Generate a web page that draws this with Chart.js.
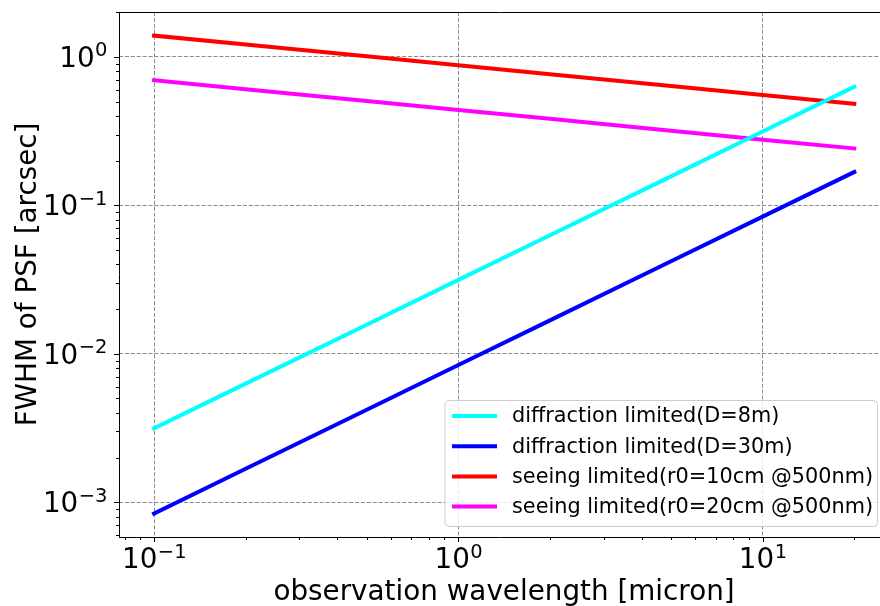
<!DOCTYPE html>
<html>
<head>
<meta charset="utf-8">
<script src="https://cdn.jsdelivr.net/npm/chart.js@4.4.0/dist/chart.umd.min.js"></script>
<style>
    html, body { margin: 0; padding: 0; background: #fff; overflow: hidden; }
    #wrap { width: 880px; height: 606px; position: relative; }
</style>
</head>
<body>
<div id="wrap"><canvas id="psfChart"></canvas></div>
<script>
// wavelength samples [micron]
const wavelengths = [0.1, 0.2, 0.5, 1, 2, 5, 10, 20];

// FWHM [arcsec]
const diffraction8m = [0.00315, 0.0063, 0.0157, 0.0315, 0.063, 0.157, 0.315, 0.63];
const diffraction30m = [0.00084, 0.00168, 0.0042, 0.0084, 0.0168, 0.042, 0.084, 0.168];
const seeing10cm = [1.394, 1.213, 1.01, 0.879, 0.766, 0.637, 0.555, 0.483];
const seeing20cm = [0.697, 0.607, 0.505, 0.440, 0.383, 0.319, 0.277, 0.242];

const seriesLabels = [
    "diffraction limited(D=8m)",
    "diffraction limited(D=30m)",
    "seeing limited(r0=10cm @500nm)",
    "seeing limited(r0=20cm @500nm)",
];
const seriesColors = ["#00ffff", "#0000ff", "#ff0000", "#ff00ff"];

// ticks
const xMajorTicks = [0.1, 1, 10];
const xTickLabels = [["10", "\u22121"], ["10", "0"], ["10", "1"]];
const xMinorTicks = [0.08, 0.09, 0.2, 0.3, 0.4, 0.5, 0.6, 0.7, 0.8, 0.9,
    2, 3, 4, 5, 6, 7, 8, 9, 20];
const yMajorTicks = [0.001, 0.01, 0.1, 1];
const yTickLabels = [["10", "\u22123"], ["10", "\u22122"], ["10", "\u22121"], ["10", "0"]];
const yMinorTicks = [0.0006, 0.0007, 0.0008, 0.0009,
    0.002, 0.003, 0.004, 0.005, 0.006, 0.007, 0.008, 0.009,
    0.02, 0.03, 0.04, 0.05, 0.06, 0.07, 0.08, 0.09,
    0.2, 0.3, 0.4, 0.5, 0.6, 0.7, 0.8, 0.9, 2];

const xTitle = "observation wavelength [micron]";
const yTitle = "FWHM of PSF [arcsec]";

const FONT = "'DejaVu Sans', sans-serif";

function toPoints(values) {
    return wavelengths.map((w, i) => ({ x: w, y: values[i] }));
}

const allSeries = [diffraction8m, diffraction30m, seeing10cm, seeing20cm];
const datasets = allSeries.map((values, i) => ({
    label: seriesLabels[i],
    data: toPoints(values),
    borderColor: seriesColors[i],
    backgroundColor: seriesColors[i],
    borderWidth: 4,
    pointRadius: 0,
    tension: 0,
    fill: false,
    borderCapStyle: "square",
}));

function buildTicks(majors, minors) {
    return majors.map((v) => ({ value: v, major: true }))
        .concat(minors.map((v) => ({ value: v, major: false })))
        .sort((a, b) => a.value - b.value);
}

function gridColor(majors) {
    return function (ctx) {
        if (!ctx.tick) return "rgba(0,0,0,0)";
        return majors.includes(ctx.tick.value) ? "#8c8c8c" : "rgba(0,0,0,0)";
    };
}

// draws tick marks, tick labels, axis titles, top spine and legend
const axisDecor = {
    id: "axisDecor",
    afterDraw(chart) {
        const { ctx, chartArea: a, scales } = chart;
        const x = scales.x, y = scales.y;
        ctx.save();
        ctx.setLineDash([]);
        ctx.strokeStyle = "#000";
        ctx.lineWidth = 1;

        function seg(x1, y1, x2, y2) {
            ctx.beginPath();
            ctx.moveTo(x1, y1);
            ctx.lineTo(x2, y2);
            ctx.stroke();
        }

        // spines
        seg(a.left, Math.round(a.top) + 0.5, a.right, Math.round(a.top) + 0.5);
        seg(Math.round(a.left) + 0.5, a.top, Math.round(a.left) + 0.5, a.bottom);
        seg(a.left, Math.round(a.bottom) + 0.5, a.right, Math.round(a.bottom) + 0.5);

        xMajorTicks.forEach((v) => {
            const px = Math.round(x.getPixelForValue(v)) + 0.5;
            seg(px, a.bottom, px, a.bottom + 5);
        });
        xMinorTicks.forEach((v) => {
            const px = Math.round(x.getPixelForValue(v)) + 0.5;
            seg(px, a.bottom, px, a.bottom + 3);
        });
        yMajorTicks.forEach((v) => {
            const py = Math.round(y.getPixelForValue(v)) + 0.5;
            seg(a.left - 5, py, a.left, py);
        });
        yMinorTicks.forEach((v) => {
            const py = Math.round(y.getPixelForValue(v)) + 0.5;
            seg(a.left - 3, py, a.left, py);
        });

        // tick labels 10^n
        const baseFont = "27.8px " + FONT;
        const expFont = "19.5px " + FONT;
        ctx.fillStyle = "#000";
        ctx.textBaseline = "alphabetic";
        ctx.textAlign = "left";

        function measure(label) {
            ctx.font = baseFont;
            const wb = ctx.measureText(label[0]).width;
            ctx.font = expFont;
            const we = ctx.measureText(label[1]).width;
            return [wb, we];
        }
        function drawLabel(label, left, baseline) {
            const [wb] = measure(label);
            ctx.font = baseFont;
            ctx.fillText(label[0], left, baseline);
            ctx.font = expFont;
            ctx.fillText(label[1], left + wb + 0.5, baseline - 10.5);
        }

        xMajorTicks.forEach((v, i) => {
            const px = x.getPixelForValue(v);
            const [wb, we] = measure(xTickLabels[i]);
            drawLabel(xTickLabels[i], px - (wb + we) / 2, a.bottom + 31);
        });
        yMajorTicks.forEach((v, i) => {
            const py = y.getPixelForValue(v);
            const [wb, we] = measure(yTickLabels[i]);
            drawLabel(yTickLabels[i], a.left - 12 - (wb + we), py + 10);
        });

        // axis titles
        ctx.font = "27.8px " + FONT;
        ctx.textAlign = "center";
        ctx.fillText(xTitle, 504, 600);
        ctx.save();
        ctx.translate(35.5, (a.top + a.bottom) / 2);
        ctx.rotate(-Math.PI / 2);
        ctx.fillText(yTitle, 0, 0);
        ctx.restore();

        // legend
        const bx = 445, by = 400.5, bw = 432.5, bh = 126, r = 4;
        ctx.beginPath();
        ctx.moveTo(bx + r, by);
        ctx.arcTo(bx + bw, by, bx + bw, by + bh, r);
        ctx.arcTo(bx + bw, by + bh, bx, by + bh, r);
        ctx.arcTo(bx, by + bh, bx, by, r);
        ctx.arcTo(bx, by, bx + bw, by, r);
        ctx.closePath();
        ctx.fillStyle = "rgba(255,255,255,0.8)";
        ctx.fill();
        ctx.strokeStyle = "#cccccc";
        ctx.lineWidth = 1;
        ctx.stroke();

        ctx.font = "20.8px " + FONT;
        ctx.textAlign = "left";
        ctx.textBaseline = "middle";
        seriesLabels.forEach((label, i) => {
            const ry = 416 + i * 30.2;
            ctx.strokeStyle = seriesColors[i];
            ctx.lineWidth = 4;
            seg(452, ry, 497, ry);
            ctx.fillStyle = "#000";
            ctx.fillText(label, 512, ry + 1);
        });

        ctx.restore();
    },
};

const ctx = document.getElementById("psfChart").getContext("2d");
const psfChart = new Chart(ctx, {
    type: "line",
    data: { datasets: datasets },
    options: {
        responsive: true,
        maintainAspectRatio: false,
        animation: false,
        layout: { padding: { top: 12, right: 0, left: 0, bottom: 0 } },
        plugins: {
            legend: { display: false },
            tooltip: { enabled: false },
        },
        scales: {
            x: {
                type: "logarithmic",
                position: "bottom",
                min: 0.0767,
                max: 24.3,
                afterBuildTicks: (scale) => {
                    scale.ticks = buildTicks(xMajorTicks, xMinorTicks);
                },
                afterFit: (scale) => {
                    scale.height = 69;
                },
                ticks: { display: false, autoSkip: false },
                grid: {
                    color: gridColor(xMajorTicks),
                    lineWidth: 1,
                    drawTicks: false,
                },
                border: { display: false, dash: [4.1, 1.8] },
            },
            y: {
                type: "logarithmic",
                position: "left",
                min: 0.000583,
                max: 2.01,
                afterBuildTicks: (scale) => {
                    scale.ticks = buildTicks(yMajorTicks, yMinorTicks);
                },
                afterFit: (scale) => {
                    scale.width = 119;
                },
                ticks: { display: false, autoSkip: false },
                grid: {
                    color: gridColor(yMajorTicks),
                    lineWidth: 1,
                    drawTicks: false,
                },
                border: { display: false, dash: [4.1, 1.8] },
            },
        },
    },
    plugins: [axisDecor],
});
</script>
</body>
</html>
